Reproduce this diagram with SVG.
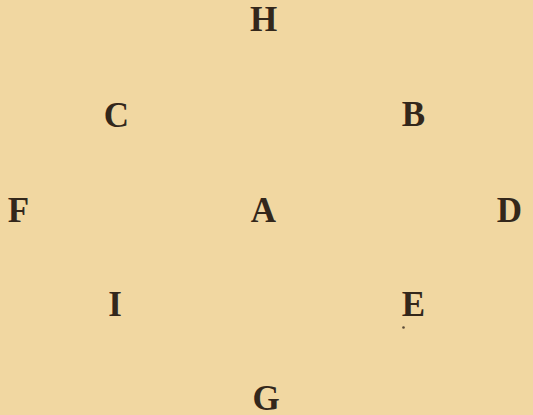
<svg xmlns="http://www.w3.org/2000/svg" width="533" height="415" viewBox="0 0 533 415">
<style>
.l{font-family:"Liberation Serif","Times New Roman",serif;font-weight:bold;font-size:35px;fill:#33271b;text-anchor:middle}
</style>
<rect width="533" height="415" fill="#F1D7A1"/>
<g id="connectors"/>
<g id="H"><text class="l" x="263.5" y="31">H</text></g>
<g id="C"><text class="l" x="116.5" y="126.5">C</text></g>
<g id="B"><text class="l" x="413.5" y="126">B</text></g>
<g id="F"><text class="l" x="18.5" y="222">F</text></g>
<g id="A"><text class="l" x="263.5" y="222">A</text></g>
<g id="D"><text class="l" x="509.5" y="222">D</text></g>
<g id="I"><text class="l" x="115" y="316">I</text></g>
<g id="E"><text class="l" x="413.5" y="316">E</text></g>
<g id="G"><text class="l" x="266" y="410">G</text></g>
<circle cx="403.5" cy="327.5" r="1.3" fill="#5a4a38"/>
</svg>
